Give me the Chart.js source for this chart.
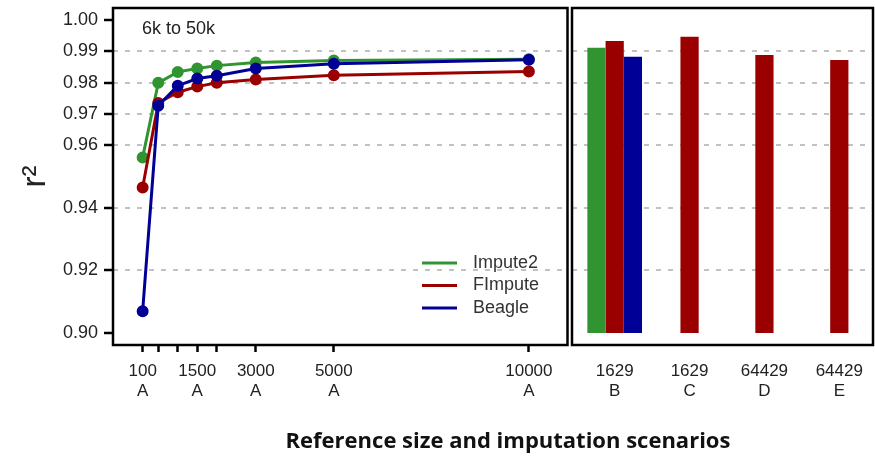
<!DOCTYPE html>
<html>
<head>
<meta charset="utf-8">
<script src="https://cdn.jsdelivr.net/npm/chart.js@4.4.1/dist/chart.umd.min.js"></script>
<style>
  body { margin: 0; background: #fff; overflow: hidden; }
  #wrap { position: relative; width: 875px; height: 457px; }
  .box { position: absolute; top: 0; height: 457px; }
  #left-box { left: 0; width: 575px; }
  #right-box { left: 570px; width: 305px; }
  #x-title {
    position: absolute; top: 424px; left: 108px; width: 800px;
    text-align: center; white-space: nowrap;
    font-family: "Open Sans", sans-serif; font-weight: 700; font-size: 22px; color: #111;
  }
</style>
</head>
<body>
<div id="wrap">
  <div class="box" id="left-box"><canvas id="sizeChart"></canvas></div>
  <div class="box" id="right-box"><canvas id="scenarioChart"></canvas></div>
  <div id="x-title">Reference size and imputation scenarios</div>
</div>
<script>
// Data
const refSizes = [100, 500, 1000, 1500, 2000, 3000, 5000, 10000];
const labeledSizes = [100, 1500, 3000, 5000, 10000];
const impute2R2 = [0.9561, 0.9799, 0.9834, 0.9845, 0.9854, 0.9864, 0.9870, 0.9874];
const fimputeR2 = [0.9465, 0.9735, 0.9769, 0.9787, 0.9799, 0.9810, 0.9823, 0.9835];
const beagleR2 = [0.9070, 0.9726, 0.9790, 0.9813, 0.9822, 0.9845, 0.9860, 0.9873];

const scenarioLabels = [['1629', 'B'], ['1629', 'C'], ['64429', 'D'], ['64429', 'E']];
const impute2Bars = [0.9911, null, null, null];
const fimputeBars = [0.9933, 0.9946, 0.9888, 0.9872];
const beagleBars = [0.9882, null, null, null];
const barBase = 0.90;

const r2Ticks = [0.90, 0.92, 0.94, 0.96, 0.97, 0.98, 0.99, 1.00];
const r2Grid = [0.92, 0.94, 0.96, 0.97, 0.98, 0.99];

const GREEN = '#309530';
const RED = '#9a0000';
const BLUE = '#000096';
const FONT = '"Liberation Sans", Arial, sans-serif';

Chart.defaults.font.family = FONT;
Chart.defaults.color = '#222';

// y scale shared by both panels
function r2Scale(showLabels) {
  return {
    type: 'linear',
    min: 0.8962,
    max: 1.0038,
    afterBuildTicks: (scale) => { scale.ticks = r2Ticks.map(v => ({ value: v })); },
    afterFit: (scale) => {
      scale.width = showLabels ? 113 : 0;
      // keep both panels on the same plot height
      scale.paddingTop = 0;
      scale.paddingBottom = 0;
    },
    ticks: {
      display: showLabels,
      padding: 6,
      font: { size: 18 },
      callback: (v) => Number(v).toFixed(2)
    },
    grid: {
      color: (c) => r2Grid.includes(c.tick.value) ? '#c2c2c2' : 'rgba(0,0,0,0)',
      lineWidth: 2,
      drawTicks: showLabels,
      tickLength: 9,
      tickWidth: 2.5,
      tickColor: '#000'
    },
    border: { display: false, dash: [5, 7] },
    title: {
      display: showLabels,
      text: 'r²',
      font: { size: 33 },
      color: '#222',
      padding: { top: 16, bottom: 0 }
    }
  };
}

// black frame around each panel
const framePlugin = {
  id: 'frame',
  afterDraw(chart) {
    const { ctx, chartArea: a } = chart;
    ctx.save();
    ctx.strokeStyle = '#000';
    ctx.lineWidth = 2.5;
    ctx.strokeRect(a.left, a.top, a.right - a.left, a.bottom - a.top);
    ctx.restore();
  }
};

// panel note + legend drawn inside the left plot area
const notesPlugin = {
  id: 'notes',
  afterDatasetsDraw(chart) {
    const { ctx, chartArea: a } = chart;
    ctx.save();
    ctx.font = '18px ' + FONT;
    ctx.fillStyle = '#222';
    ctx.textBaseline = 'middle';
    ctx.fillText('6k to 50k', a.left + 29, a.top + 21);

    const sets = chart.data.datasets;
    sets.forEach((ds, i) => {
      const y = a.top + 255 + i * 22.5;
      ctx.strokeStyle = ds.borderColor;
      ctx.lineWidth = 3;
      ctx.beginPath();
      ctx.moveTo(a.left + 309, y);
      ctx.lineTo(a.left + 344, y);
      ctx.stroke();
      ctx.fillStyle = '#333';
      ctx.fillText(ds.label, a.left + 360, y);
    });
    ctx.restore();
  }
};

function lineSet(label, values, color, order) {
  return {
    label: label,
    data: refSizes.map((x, i) => ({ x: x, y: values[i] })),
    borderColor: color,
    backgroundColor: color,
    pointBackgroundColor: color,
    pointBorderColor: color,
    borderWidth: 3,
    pointRadius: 4.5,
    tension: 0,
    order: order
  };
}

new Chart(document.getElementById('sizeChart'), {
  type: 'line',
  data: {
    datasets: [
      lineSet('Impute2', impute2R2, GREEN, 3),
      lineSet('FImpute', fimputeR2, RED, 2),
      lineSet('Beagle', beagleR2, BLUE, 1)
    ]
  },
  options: {
    responsive: true,
    maintainAspectRatio: false,
    animation: false,
    layout: { padding: { top: 8, right: 3, left: 0, bottom: 0 } },
    plugins: { legend: { display: false }, tooltip: { enabled: false } },
    scales: {
      x: {
        type: 'linear',
        min: -660,
        max: 10990,
        afterBuildTicks: (scale) => { scale.ticks = refSizes.map(v => ({ value: v })); },
        afterFit: (scale) => { scale.height = 112; },
        ticks: {
          autoSkip: false,
          maxRotation: 0,
          padding: 9,
          font: { size: 17, lineHeight: 1.18 },
          callback: (v) => labeledSizes.includes(v) ? [String(v), 'A'] : ''
        },
        grid: {
          drawOnChartArea: false,
          color: '#000',
          tickLength: 7,
          tickWidth: 2.5,
          tickColor: '#000'
        },
        border: { display: false }
      },
      y: r2Scale(true)
    }
  },
  plugins: [framePlugin, notesPlugin]
});

// scenarios sit at positions 0..3 on a linear axis so the panel margins can match
function barSet(label, values, color) {
  return {
    label: label,
    data: values.map((v, i) => ({ x: i, y: v == null ? null : [barBase, v] })),
    backgroundColor: color,
    borderWidth: 0,
    barPercentage: 1,
    categoryPercentage: 0.73
  };
}

new Chart(document.getElementById('scenarioChart'), {
  type: 'bar',
  data: {
    datasets: [
      barSet('Impute2', impute2Bars, GREEN),
      barSet('FImpute', fimputeBars, RED),
      barSet('Beagle', beagleBars, BLUE)
    ]
  },
  options: {
    responsive: true,
    maintainAspectRatio: false,
    animation: false,
    layout: { padding: { top: 8, right: 2, left: 2, bottom: 0 } },
    plugins: { legend: { display: false }, tooltip: { enabled: false } },
    scales: {
      x: {
        type: 'linear',
        offset: false,
        min: -0.57,
        max: 3.45,
        afterBuildTicks: (scale) => { scale.ticks = scenarioLabels.map((l, i) => ({ value: i })); },
        afterFit: (scale) => { scale.height = 112; },
        ticks: {
          autoSkip: false,
          maxRotation: 0,
          padding: 9,
          font: { size: 17, lineHeight: 1.18 },
          callback: (v) => scenarioLabels[v] || ''
        },
        grid: {
          drawOnChartArea: false,
          offset: false,
          tickLength: 7,
          tickColor: 'rgba(0,0,0,0)'
        },
        border: { display: false }
      },
      y: r2Scale(false)
    }
  },
  plugins: [framePlugin]
});
</script>
</body>
</html>
